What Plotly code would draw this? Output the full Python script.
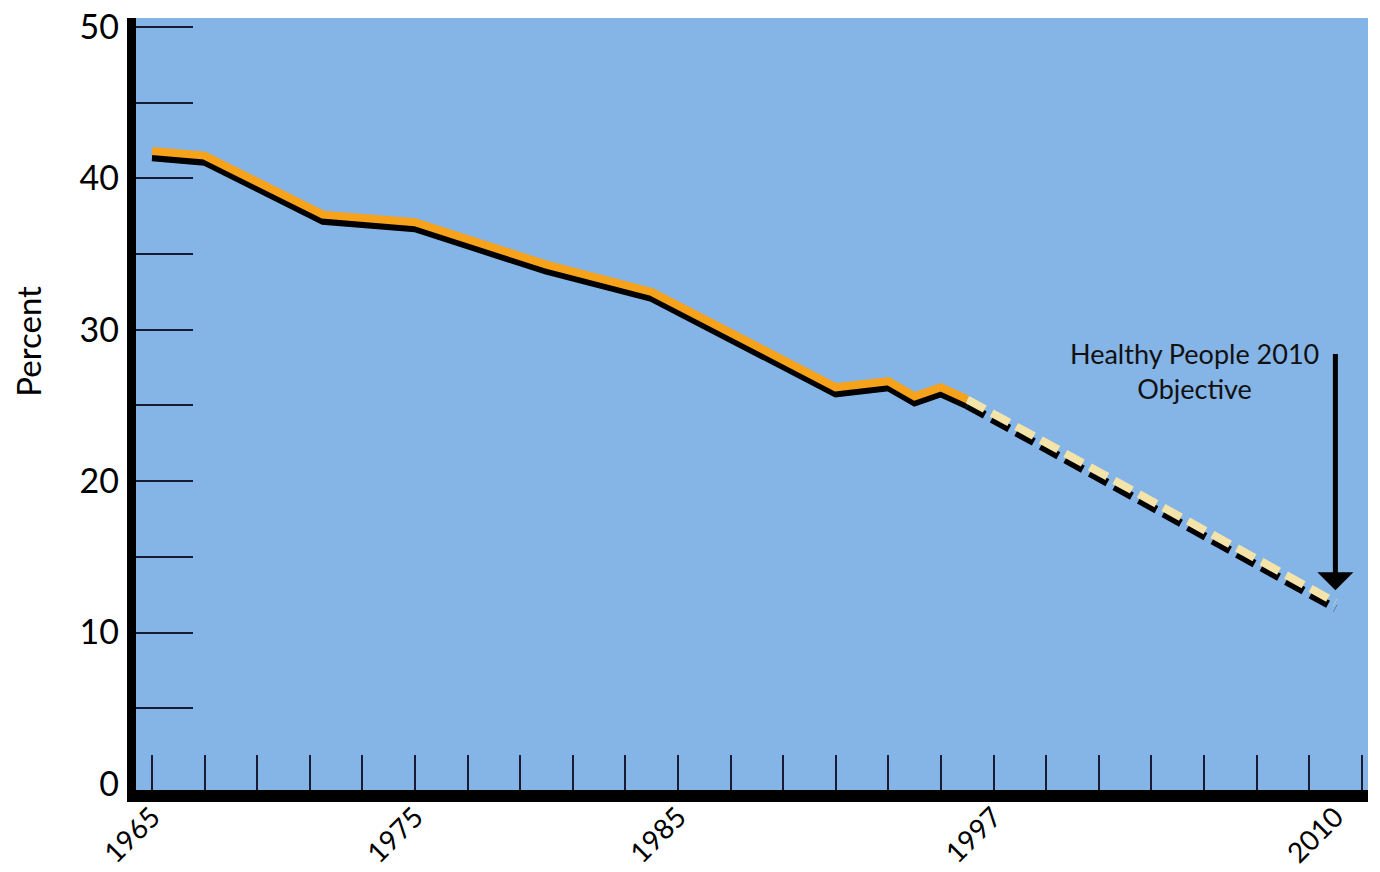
import plotly.graph_objects as go

# ---- data ----
obs_years = [1965, 1967, 1971.5, 1975, 1980, 1984, 1991, 1993, 1994, 1995, 1996]
obs_values = [41.8, 41.5, 37.6, 37.1, 34.3, 32.5, 26.2, 26.6, 25.6, 26.2, 25.4]
proj_years = [1996, 2010]
proj_values = [25.4, 12.0]
target_year = 2010
target_value = 12.8
arrow_start_value = 28.5

x_label_years = [1965, 1975, 1985, 1997, 2010]
x_tick_years = list(range(1965, 2012, 2))
y_label_values = [0, 10, 20, 30, 40, 50]
y_tick_values = list(range(5, 51, 5))

# ---- style ----
BLUE = "#85B4E6"
ORANGE = "#F7A21B"
CREAM = "#F4E4AA"
TICK = "#1a1a33"
FONT = "Lato"

X_RANGE = [1964.39, 2011.24]
Y_RANGE = [-0.4, 50.59]
SHIFT = 0.4  # shadow offset in value units (~6 px)
Y_SHADOW = [Y_RANGE[0] + SHIFT, Y_RANGE[1] + SHIFT]

fig = go.Figure()

# shadows (main y axis, shifted range -> drawn lower)
fig.add_trace(go.Scatter(x=obs_years, y=obs_values, mode="lines",
                         line=dict(color="black", width=8), xaxis="x", yaxis="y",
                         hoverinfo="skip", showlegend=False))
fig.add_trace(go.Scatter(x=proj_years, y=proj_values, mode="lines",
                         line=dict(color="black", width=8, dash="20px,8px"),
                         xaxis="x", yaxis="y", hoverinfo="skip", showlegend=False))
# main lines
fig.add_trace(go.Scatter(x=proj_years, y=proj_values, mode="lines",
                         line=dict(color=CREAM, width=8, dash="20px,8px"),
                         xaxis="x", yaxis="y2", showlegend=False))
fig.add_trace(go.Scatter(x=obs_years, y=obs_values, mode="lines",
                         line=dict(color=ORANGE, width=8), xaxis="x", yaxis="y2",
                         showlegend=False))
# empty trace so the label axes get drawn
fig.add_trace(go.Scatter(x=[None], y=[None], mode="lines", xaxis="x2", yaxis="y3",
                         hoverinfo="skip", showlegend=False))

fig.update_layout(
    width=1380, height=872,
    margin=dict(l=136, r=12, t=18, b=82),
    paper_bgcolor="white", plot_bgcolor=BLUE,
    font=dict(family=FONT, color="black"),
    showlegend=False,
    xaxis=dict(range=X_RANGE, tickmode="array", tickvals=x_tick_years,
               ticks="inside", ticklen=35, tickwidth=2, tickcolor=TICK,
               showticklabels=False, showline=True, linewidth=12, linecolor="black",
               showgrid=False, zeroline=False, anchor="y2", automargin=False),
    xaxis2=dict(range=X_RANGE, overlaying="x", side="bottom", anchor="y2",
                tickmode="array", tickvals=x_label_years,
                ticktext=[str(v) for v in x_label_years],
                ticks="", tickangle=-45, ticklabelstandoff=4,
                tickfont=dict(size=28, family=FONT, color="black"),
                showline=False, showgrid=False, zeroline=False, automargin=False),
    yaxis=dict(range=Y_SHADOW, visible=False, showgrid=False, zeroline=False,
               automargin=False),
    yaxis2=dict(range=Y_RANGE, overlaying="y", anchor="x",
                tickmode="array", tickvals=y_tick_values,
                ticks="inside", ticklen=57, tickwidth=2, tickcolor=TICK,
                showticklabels=False, showline=True, linewidth=9, linecolor="black",
                showgrid=False, zeroline=False, automargin=False),
    yaxis3=dict(range=Y_RANGE, overlaying="y", anchor="x",
                tickmode="array", tickvals=y_label_values,
                ticktext=[str(v) for v in y_label_values],
                ticks="", ticklabelstandoff=16,
                tickfont=dict(size=34, family=FONT, color="black"),
                showline=False, showgrid=False, zeroline=False, automargin=False),
)

# arrow to the objective
fig.add_annotation(x=target_year, y=target_value, xref="x", yref="y2",
                   ax=target_year, ay=arrow_start_value, axref="x", ayref="y2",
                   showarrow=True, arrowhead=1, arrowsize=1.2, arrowwidth=5,
                   arrowcolor="black", text="")
fig.add_annotation(x=2004.66, y=27.3, xref="x", yref="y2",
                   text="Healthy People 2010<br>Objective", showarrow=False,
                   font=dict(size=27, family=FONT, color="#111111"), align="center")
fig.add_annotation(x=-0.0877, y=0.582, xref="paper", yref="paper",
                   xanchor="center", yanchor="middle",
                   text="Percent", textangle=-90, showarrow=False,
                   font=dict(size=33, family=FONT, color="black"))

fig.write_html("out.html", config={"displayModeBar": False},
               post_script="document.body.style.margin='0';document.body.style.padding='0';")
